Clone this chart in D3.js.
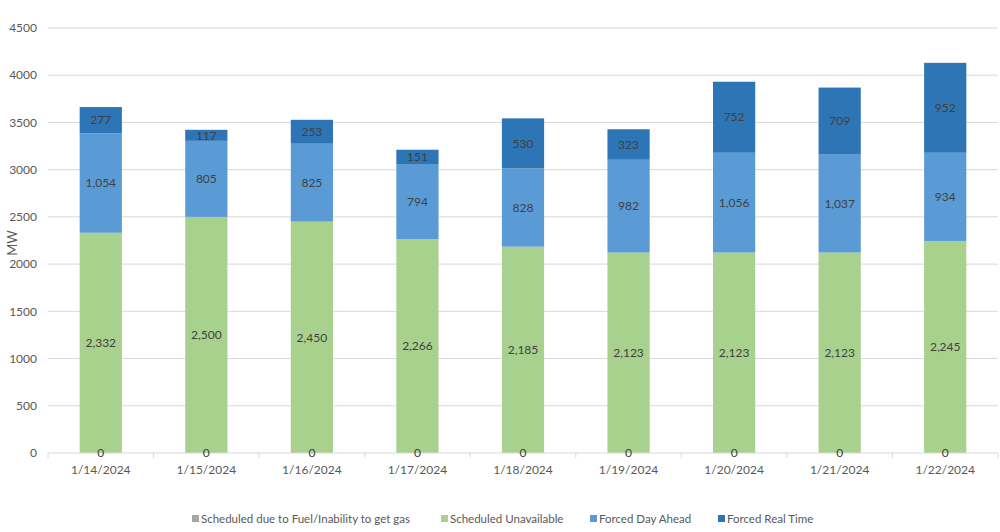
<!DOCTYPE html>
<html>
<head>
<meta charset="utf-8">
<script src="https://cdn.jsdelivr.net/npm/d3@7"></script>
<style>
  body { margin: 0; background: #fff; }
  svg text { font-family: Lato, "Open Sans", sans-serif; }
</style>
</head>
<body>
<div id="chart"></div>
<script>
var svgWidth = 1000;
var svgHeight = 532;
var margin = {top: 28, right: 2, bottom: 79, left: 48};
var width = svgWidth - margin.left - margin.right;
var height = svgHeight - margin.top - margin.bottom;

// data
var dates = ["1/14/2024", "1/15/2024", "1/16/2024", "1/17/2024", "1/18/2024", "1/19/2024", "1/20/2024", "1/21/2024", "1/22/2024"];
var fuelGas = [0, 0, 0, 0, 0, 0, 0, 0, 0];
var schedUnavail = [2332, 2500, 2450, 2266, 2185, 2123, 2123, 2123, 2245];
var forcedDayAhead = [1054, 805, 825, 794, 828, 982, 1056, 1037, 934];
var forcedRealTime = [277, 117, 253, 151, 530, 323, 752, 709, 952];
var yTicks = [0, 500, 1000, 1500, 2000, 2500, 3000, 3500, 4000, 4500];

var seriesNames = ["Scheduled due to Fuel/Inability to get gas", "Scheduled Unavailable", "Forced Day Ahead", "Forced Real Time"];
var seriesValues = [fuelGas, schedUnavail, forcedDayAhead, forcedRealTime];
var colors = ["#A5A5A5", "#A9D18E", "#5B9BD5", "#2E75B6"];

var rows = dates.map(function(d, i) {
  var r = {date: d};
  seriesNames.forEach(function(s, j) { r[s] = seriesValues[j][i]; });
  return r;
});
var stacked = d3.stack().keys(seriesNames)(rows);

var svg = d3.select("#chart").append("svg")
  .attr("width", svgWidth)
  .attr("height", svgHeight);
var chart = svg.append("g")
  .attr("transform", "translate(" + margin.left + "," + margin.top + ")");

var x = d3.scaleBand().domain(dates).range([0, width]).paddingInner(0.6).paddingOuter(0.3);
var y = d3.scaleLinear().domain([0, 4500]).range([height, 0]);

// gridlines
chart.selectAll(".grid")
  .data(yTicks.slice(1))
  .enter().append("line")
  .attr("x1", 0).attr("x2", width)
  .attr("y1", function(d) { return y(d); })
  .attr("y2", function(d) { return y(d); })
  .attr("stroke", "#d9d9d9").attr("stroke-width", 1);

// y tick labels
chart.selectAll(".ylab")
  .data(yTicks)
  .enter().append("text")
  .attr("x", -11)
  .attr("y", function(d) { return y(d); })
  .attr("dy", "0.35em")
  .attr("text-anchor", "end")
  .attr("font-size", "12px")
  .attr("fill", "#595959")
  .text(function(d) { return d; });

// bars
var layers = chart.selectAll(".layer")
  .data(stacked)
  .enter().append("g")
  .attr("fill", function(d, i) { return colors[i]; });

layers.selectAll("rect")
  .data(function(d) { return d; })
  .enter().append("rect")
  .attr("x", function(d) { return x(d.data.date); })
  .attr("width", x.bandwidth())
  .attr("y", function(d) { return y(d[1]); })
  .attr("height", function(d) { return y(d[0]) - y(d[1]); });

// x axis
var xAxis = chart.append("g")
  .attr("transform", "translate(0," + height + ")");
xAxis.append("line")
  .attr("x1", 0).attr("x2", width)
  .attr("stroke", "#d9d9d9");
var step = x.step();
var firstEdge = x(dates[0]) - (step - x.bandwidth()) / 2;
xAxis.selectAll(".tick")
  .data(d3.range(dates.length + 1))
  .enter().append("line")
  .attr("x1", function(i) { return firstEdge + i * step; })
  .attr("x2", function(i) { return firstEdge + i * step; })
  .attr("y1", 0).attr("y2", 5)
  .attr("stroke", "#d9d9d9");
xAxis.selectAll(".xlab")
  .data(dates)
  .enter().append("text")
  .attr("x", function(d) { return x(d) + x.bandwidth() / 2; })
  .attr("y", 21)
  .attr("text-anchor", "middle")
  .attr("font-size", "12px")
  .attr("fill", "#595959")
  .text(function(d) { return d; });

// data labels, drawn over all bars
var labels = chart.append("g");
stacked.forEach(function(layer) {
  labels.selectAll(null)
    .data(layer)
    .enter().append("text")
    .attr("x", function(d) { return x(d.data.date) + x.bandwidth() / 2; })
    .attr("y", function(d) { return (y(d[0]) + y(d[1])) / 2; })
    .attr("dy", "0.35em")
    .attr("text-anchor", "middle")
    .attr("font-size", "12px")
    .attr("fill", "#404040")
    .text(function(d) { return d3.format(",")(d[1] - d[0]); });
});

// y axis title
chart.append("text")
  .attr("transform", "rotate(-90)")
  .attr("x", -215)
  .attr("y", -31)
  .attr("text-anchor", "middle")
  .attr("font-size", "13px")
  .attr("fill", "#595959")
  .text("MW");

// legend
var legendX = [192, 441, 590, 718];
var legend = svg.selectAll(".legend")
  .data(seriesNames)
  .enter().append("g")
  .attr("transform", function(d, i) { return "translate(" + legendX[i] + ",519)"; });
legend.append("rect")
  .attr("x", 0).attr("y", -4)
  .attr("width", 7).attr("height", 7)
  .attr("fill", function(d, i) { return colors[i]; });
legend.append("text")
  .attr("x", 9)
  .attr("y", 0)
  .attr("dy", "0.35em")
  .attr("font-size", "11.5px")
  .attr("fill", "#595959")
  .text(function(d) { return d; });
</script>
</body>
</html>
